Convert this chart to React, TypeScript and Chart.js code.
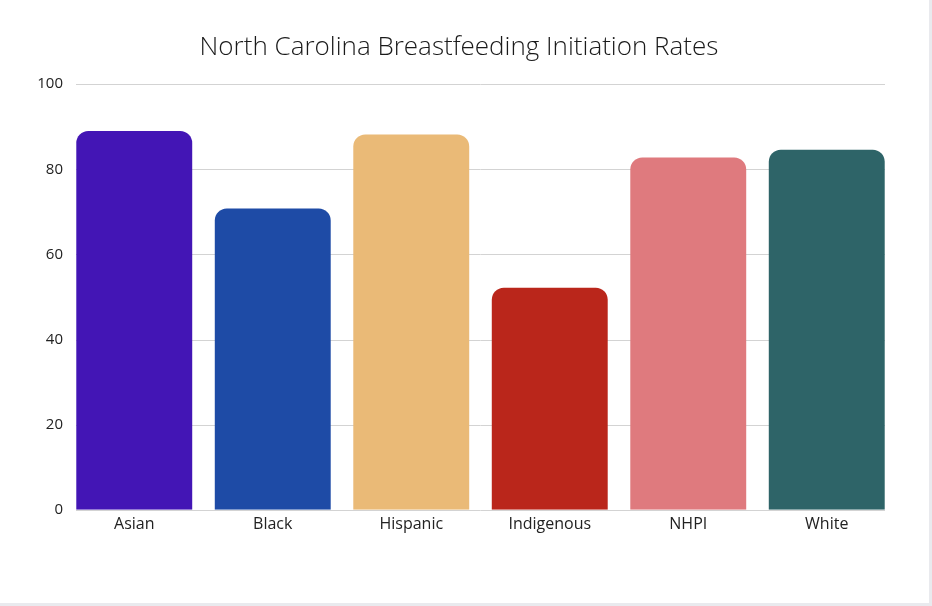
import React, { useEffect, useRef } from "react";
import { Chart, registerables } from "chart.js";

Chart.register(...registerables);

const categories = ["Asian", "Black", "Hispanic", "Indigenous", "NHPI", "White"];
const rates = [89.0, 70.8, 88.2, 52.2, 82.8, 84.6];
const barColors = ["#4315B5", "#1E4BA6", "#EABA77", "#BA261B", "#DF7A7E", "#2E6468"];
const yTicks = [0, 20, 40, 60, 80, 100];
const titleText = "North Carolina Breastfeeding Initiation Rates";

const FONT = "'Open Sans', 'Noto Sans', sans-serif";

const gridPlugin = {
  id: "insetGrid",
  beforeDatasetsDraw(chart: any) {
    const { ctx, chartArea, scales } = chart;
    const y = scales.y;
    ctx.save();
    ctx.strokeStyle = "#d3d3d3";
    ctx.lineWidth = 1;
    for (const v of yTicks) {
      const py = Math.round(y.getPixelForValue(v)) + 0.5;
      ctx.beginPath();
      ctx.moveTo(chartArea.left + 11, py);
      ctx.lineTo(chartArea.right - 11, py);
      ctx.stroke();
    }
    ctx.restore();
  },
};

export default function App() {
  const ref = useRef<HTMLCanvasElement | null>(null);

  useEffect(() => {
    if (!ref.current) return;
    const chart = new Chart(ref.current, {
      type: "bar",
      data: {
        labels: categories,
        datasets: [
          {
            data: rates,
            backgroundColor: barColors,
            borderWidth: 0,
            borderRadius: { topLeft: 12, topRight: 12, bottomLeft: 0, bottomRight: 0 },
            borderSkipped: "start",
            categoryPercentage: 1,
            barPercentage: 0.837,
          },
        ],
      },
      plugins: [gridPlugin],
      options: {
        animation: false,
        responsive: false,
        maintainAspectRatio: false,
        layout: { padding: { left: 22, right: 33, top: 0, bottom: 64 } },
        plugins: {
          legend: { display: false },
          tooltip: { enabled: false },
          title: {
            display: true,
            text: titleText,
            color: "#1a1a1a",
            font: { family: FONT, size: 26, weight: 300 },
            padding: { top: 32, bottom: 21 },
          },
        },
        scales: {
          x: {
            grid: { display: false, drawTicks: false },
            border: { display: false },
            ticks: {
              color: "#222",
              font: { family: FONT, size: 16, weight: "normal" },
              padding: 5,
            },
          },
          y: {
            min: 0,
            max: 100,
            afterBuildTicks: (scale: any) => {
              scale.ticks = yTicks.map((v) => ({ value: v }));
            },
            afterFit: (scale: any) => {
              scale.width = 43;
            },
            grid: { display: false, drawTicks: false },
            border: { display: false },
            ticks: {
              color: "#222",
              font: { family: FONT, size: 15, weight: "normal" },
              padding: 2,
            },
          },
        },
      },
    });
    return () => chart.destroy();
  }, []);

  return (
    <div
      style={{
        position: "fixed",
        left: 0,
        top: 0,
        width: 932,
        height: 606,
        background: "#e9eaee",
      }}
    >
      <div style={{ width: 929, height: 603, background: "#ffffff" }}>
        <canvas ref={ref} width={929} height={603} style={{ display: "block" }} />
      </div>
    </div>
  );
}
